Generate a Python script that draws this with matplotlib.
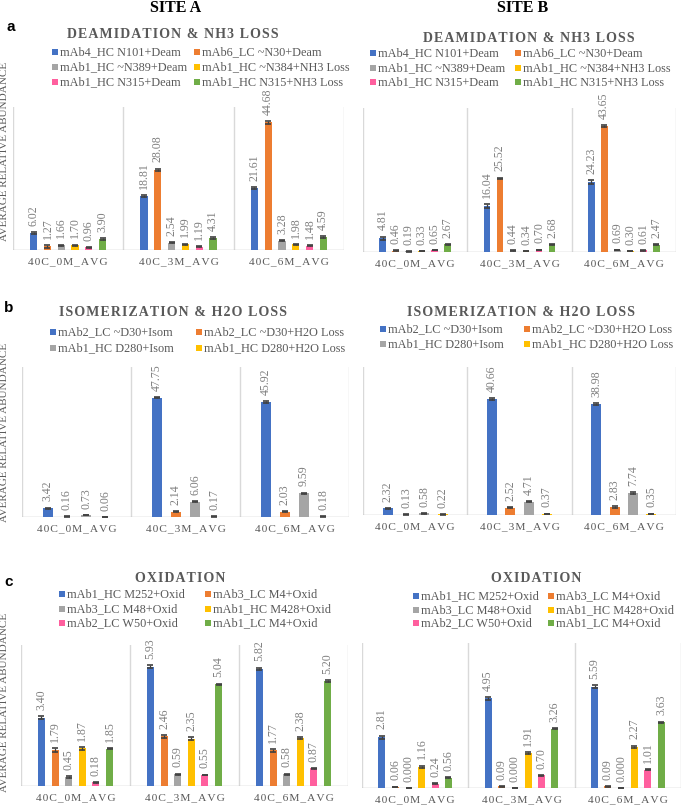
import numpy as np
import matplotlib
matplotlib.use("Agg")
import matplotlib.pyplot as plt
from matplotlib.patches import Rectangle

W, H = 682, 808
SERIF = ["Liberation Serif", "DejaVu Serif"]
GRAY_TXT = "#595959"
LABEL_TXT = "#7F7F7F"

categories = ["40C_0M_AVG", "40C_3M_AVG", "40C_6M_AVG"]
colors = ["#4472C4", "#ED7D31", "#A5A5A5", "#FFC000", "#FF5F9E", "#70AD47"]

# --- deamidation & NH3 loss
deam_names = ["mAb4_HC N101+Deam", "mAb6_LC ~N30+Deam", "mAb1_HC ~N389+Deam",
              "mAb1_HC ~N384+NH3 Loss", "mAb1_HC N315+Deam", "mAb1_HC N315+NH3 Loss"]
deam_a = [[6.02, 18.81, 21.61], [1.27, 28.08, 44.68], [1.66, 2.54, 3.28],
          [1.70, 1.99, 1.98], [0.96, 1.19, 1.48], [3.90, 4.31, 4.59]]
deam_a_err = [[0.3, 0.3, 0.3], [0.4, 0.4, 0.5], [0.25, 0.25, 0.3],
              [0.2, 0.2, 0.2], [0.15, 0.2, 0.2], [0.3, 0.3, 0.3]]
deam_b = [[4.81, 16.04, 24.23], [0.46, 25.52, 43.65], [0.19, 0.44, 0.69],
          [0.33, 0.34, 0.30], [0.65, 0.70, 0.61], [2.67, 2.68, 2.47]]
deam_b_err = [[0.5, 0.6, 0.6], [0.1, 0.3, 0.3], [0.05, 0.1, 0.1],
              [0.05, 0.05, 0.05], [0.1, 0.1, 0.1], [0.15, 0.15, 0.15]]

# --- isomerization & H2O loss
isom_names = ["mAb2_LC ~D30+Isom", "mAb2_LC ~D30+H2O Loss",
              "mAb1_HC D280+Isom", "mAb1_HC D280+H2O Loss"]
isom_a = [[3.42, 47.75, 45.92], [0.16, 2.14, 2.03], [0.73, 6.06, 9.59], [0.06, 0.17, 0.18]]
isom_a_err = [[0.3, 0.3, 0.3], [0.05, 0.2, 0.2], [0.1, 0.2, 0.2], [0.02, 0.05, 0.05]]
isom_b = [[2.32, 40.66, 38.98], [0.13, 2.52, 2.83], [0.58, 4.71, 7.74], [0.22, 0.37, 0.35]]
isom_b_err = [[0.2, 0.3, 0.3], [0.05, 0.2, 0.2], [0.1, 0.2, 0.2], [0.05, 0.1, 0.1]]

# --- oxidation
oxid_names = ["mAb1_HC M252+Oxid", "mAb3_LC M4+Oxid", "mAb3_LC M48+Oxid",
              "mAb1_HC M428+Oxid", "mAb2_LC W50+Oxid", "mAb1_LC M4+Oxid"]
oxid_a = [[3.40, 5.93, 5.82], [1.79, 2.46, 1.77], [0.45, 0.59, 0.58],
          [1.87, 2.35, 2.38], [0.18, 0.55, 0.87], [1.85, 5.04, 5.20]]
oxid_a_err = [[0.06, 0.07, 0.06], [0.08, 0.08, 0.07], [0.03, 0.03, 0.03],
              [0.07, 0.07, 0.06], [0.02, 0.02, 0.02], [0.03, 0.04, 0.04]]
oxid_b = [[2.81, 4.95, 5.59], [0.06, 0.09, 0.09], [0.000, 0.000, 0.000],
          [1.16, 1.91, 2.27], [0.24, 0.70, 1.01], [0.56, 3.26, 3.63]]
oxid_b_err = [[0.08, 0.07, 0.07], [0.01, 0.01, 0.01], [0.0, 0.0, 0.0],
              [0.07, 0.06, 0.07], [0.02, 0.02, 0.02], [0.03, 0.03, 0.03]]
oxid_b_decimals = [2, 2, 3, 2, 2, 2]


def spaced(s):
    return "\u200a".join(s)


def fx(x):
    return x / W


def fy(y):
    return 1 - y / H


fig = plt.figure(figsize=(W / 100, H / 100), dpi=100)
fig.patch.set_facecolor("white")

# layout in pixels: axes box, title pos, legend (col x's, row y's), y max, bar step/width
panels = [
    dict(title="DEAMIDATION & NH3 LOSS", names=deam_names, vals=deam_a, errs=deam_a_err,
         box=(13, 107, 344, 250), tpos=(173, 35), lx=(55, 197), ly=(52, 67, 82),
         ymax=50, step=0.125, width=0.065),
    dict(title="DEAMIDATION & NH3 LOSS", names=deam_names, vals=deam_b, errs=deam_b_err,
         box=(363, 108, 676, 252), tpos=(529, 38), lx=(373, 518), ly=(53, 68, 82),
         ymax=50, step=0.125, width=0.065),
    dict(title="ISOMERIZATION & H2O LOSS", names=isom_names, vals=isom_a, errs=isom_a_err,
         box=(22, 367, 349, 517), tpos=(173, 313), lx=(53, 199), ly=(332, 348),
         ymax=60, step=0.175, width=0.095),
    dict(title="ISOMERIZATION & H2O LOSS", names=isom_names, vals=isom_b, errs=isom_b_err,
         box=(363, 367, 676, 515), tpos=(521, 312), lx=(383, 527), ly=(329, 344),
         ymax=52, step=0.175, width=0.095),
    dict(title="OXIDATION", names=oxid_names, vals=oxid_a, errs=oxid_a_err,
         box=(21, 645, 348, 786), tpos=(180, 578), lx=(62, 208), ly=(594, 609, 623),
         ymax=7, step=0.125, width=0.065),
    dict(title="OXIDATION", names=oxid_names, vals=oxid_b, errs=oxid_b_err,
         box=(362, 643, 681, 788), tpos=(536, 579), lx=(416, 551), ly=(596, 610, 623),
         ymax=8, step=0.125, width=0.065, decimals=oxid_b_decimals),
]

for p in panels:
    x0, y0, x1, y1 = p["box"]
    ax = fig.add_axes([fx(x0), fy(y1), (x1 - x0) / W, (y1 - y0) / H])
    n = len(p["vals"])
    idx = np.arange(len(categories))
    decs = p.get("decimals", [2] * n)
    for i in range(n):
        off = (i - (n - 1) / 2) * p["step"]
        xs = idx + off
        ax.bar(xs, p["vals"][i], width=p["width"], color=colors[i], zorder=3,
               yerr=p["errs"][i],
               error_kw=dict(ecolor="#404040", capsize=2, elinewidth=0.9, capthick=1.2, zorder=4))
        for xi, v, e in zip(xs, p["vals"][i], p["errs"][i]):
            ax.annotate(f"{v:.{decs[i]}f}", (xi, v + e), xytext=(0, 4.5),
                        textcoords="offset points", rotation=90, ha="center", va="bottom",
                        fontsize=8.6, color=LABEL_TXT, family=SERIF)
    ax.set_xlim(-0.5, 2.5)
    ax.set_ylim(0, p["ymax"])
    for s in ax.spines.values():
        s.set_visible(False)
    ax.set_yticks([])
    for b in [-0.5, 0.5, 1.5, 2.5]:
        ax.axvline(b, color="#D9D9D9", lw=1, zorder=1)
    ax.axhline(0, color="#BFBFBF", lw=1, zorder=2)
    ax.set_xticks(idx)
    ax.set_xticklabels([spaced(c) for c in categories], fontsize=8.2,
                       color=GRAY_TXT, family=SERIF)
    ax.tick_params(axis="x", length=0, pad=5)
    ax.patch.set_alpha(0)

    # chart title
    fig.text(fx(p["tpos"][0]), fy(p["tpos"][1]), spaced(p["title"]), ha="center",
             va="center", fontsize=10, fontweight="bold", color=GRAY_TXT, family=SERIF)

    # legend, row-major in two columns
    for k, name in enumerate(p["names"]):
        lx = p["lx"][k % 2]
        ly = p["ly"][k // 2]
        fig.add_artist(Rectangle((fx(lx - 3), fy(ly + 3)), 6 / W, 6 / H,
                                 transform=fig.transFigure, color=colors[k], lw=0))
        fig.text(fx(lx + 5), fy(ly), name, ha="left", va="center", fontsize=8.8,
                 color=GRAY_TXT, family=SERIF)

# y-axis titles (site A only)
for yc in [151, 432, 702]:
    fig.text(fx(5), fy(yc), "AVERAGE RELATIVE ABUNDANCE", rotation=90, ha="center",
             va="center", fontsize=8, color=GRAY_TXT, family=SERIF)

# site headers and panel letters
fig.text(fx(176), fy(8), "SITE A", ha="center", va="center", fontsize=11.5,
         fontweight="bold", color="black", family=SERIF)
fig.text(fx(523), fy(8), "SITE B", ha="center", va="center", fontsize=11.5,
         fontweight="bold", color="black", family=SERIF)
for letter, (lx, ly) in zip("abc", [(11, 27), (9, 308), (9, 582)]):
    fig.text(fx(lx), fy(ly), letter, ha="center", va="center", fontsize=11,
             fontweight="bold", color="black", family=["Liberation Sans", "DejaVu Sans"])

fig.savefig("out.png", dpi=100)
